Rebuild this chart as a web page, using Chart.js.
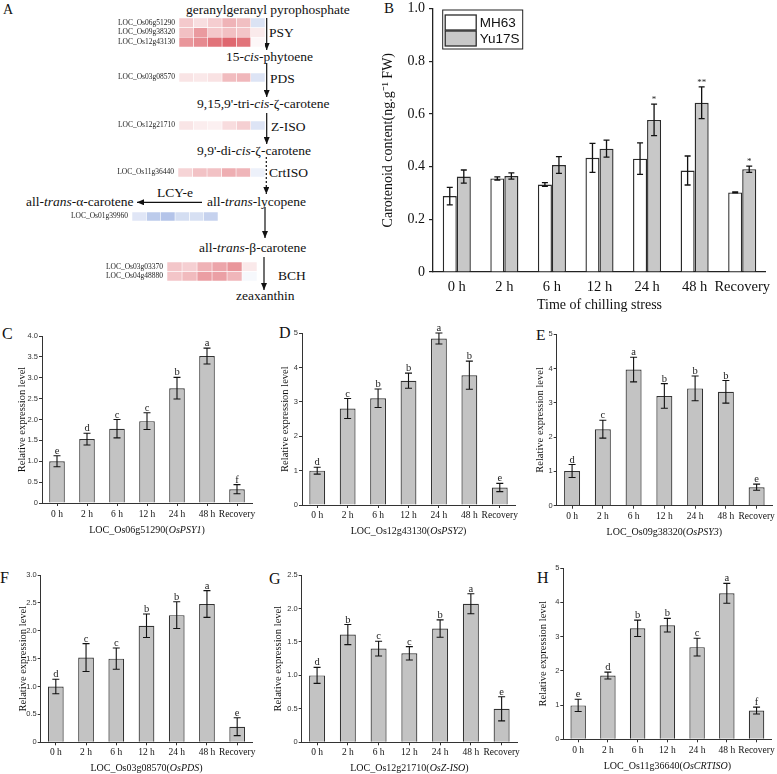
<!DOCTYPE html>
<html>
<head>
<meta charset="utf-8">
<script src="https://cdn.jsdelivr.net/npm/chart.js@4.4.0/dist/chart.umd.min.js"></script>
<style>
body { margin: 0; background: #fff; }
#page { position: relative; width: 777px; height: 774px; overflow: hidden; font-family: "Liberation Serif", "Times New Roman", serif; color: #111; }
#page canvas { position: absolute; }
.t { position: absolute; white-space: nowrap; font-size: 13.5px; line-height: 1; transform: translateY(-50%); }
.pl { position: absolute; font-size: 15.5px; line-height: 1; }
</style>
</head>
<body>
<div id="page">
<svg width="380" height="320" style="position:absolute;left:0;top:0">
  <defs>
    <marker id="ah" viewBox="0 0 10 10" refX="10" refY="5" markerWidth="7" markerHeight="6" markerUnits="userSpaceOnUse" orient="auto" preserveAspectRatio="none">
      <path d="M0,0 L10,5 L0,10 z" fill="#111"/>
    </marker>
  </defs>
  <g stroke="#111" stroke-width="1.2" fill="none">
    <line x1="266.7" y1="18" x2="266.7" y2="50" marker-end="url(#ah)"/>
    <line x1="266.7" y1="63" x2="266.7" y2="97" marker-end="url(#ah)"/>
    <line x1="266.7" y1="113" x2="266.7" y2="144" marker-end="url(#ah)"/>
    <line x1="266.3" y1="157" x2="266.3" y2="194" stroke-dasharray="2,2" marker-end="url(#ah)"/>
    <line x1="202" y1="202.3" x2="137" y2="202.3" marker-end="url(#ah)"/>
    <line x1="265" y1="207" x2="265" y2="238" marker-end="url(#ah)"/>
    <line x1="264" y1="257" x2="264" y2="290" marker-end="url(#ah)"/>
  </g>
</svg>
</div>

<script>
// ---- data ----
const times = ["0 h", "2 h", "6 h", "12 h", "24 h", "48 h", "Recovery"];

// panel B
const mh63 = [0.288, 0.355, 0.332, 0.433, 0.43, 0.385, 0.302];
const mh63Err = [0.033, 0.006, 0.007, 0.055, 0.06, 0.055, 0.002];
const yu17s = [0.362, 0.364, 0.406, 0.468, 0.577, 0.642, 0.39];
const yu17sErr = [0.025, 0.012, 0.032, 0.032, 0.06, 0.06, 0.012];
const yu17sSig = ["", "", "", "", "*", "**", "*"];
const ticksB = [0, 0.2, 0.4, 0.6, 0.8, 1.0];

// panels C-H
const psy1 = [1.0, 1.53, 1.78, 1.96, 2.75, 3.52, 0.33];
const psy1Err = [0.13, 0.14, 0.22, 0.2, 0.26, 0.19, 0.11];
const psy1Sig = ["e", "d", "c", "c", "b", "a", "f"];

const psy2 = [1.0, 2.81, 3.11, 3.62, 4.85, 3.78, 0.51];
const psy2Err = [0.1, 0.29, 0.27, 0.22, 0.16, 0.41, 0.12];
const psy2Sig = ["d", "c", "b", "b", "a", "b", "e"];

const psy3 = [1.01, 2.23, 3.97, 3.2, 3.42, 3.32, 0.54];
const psy3Err = [0.19, 0.26, 0.36, 0.36, 0.36, 0.33, 0.09];
const psy3Sig = ["d", "c", "a", "b", "b", "b", "e"];

const pds = [1.0, 1.52, 1.5, 2.09, 2.28, 2.48, 0.28];
const pdsErr = [0.13, 0.25, 0.19, 0.21, 0.24, 0.24, 0.16];
const pdsSig = ["d", "c", "c", "b", "b", "a", "e"];

const ziso = [1.0, 1.61, 1.4, 1.33, 1.7, 2.07, 0.5];
const zisoErr = [0.12, 0.15, 0.11, 0.1, 0.13, 0.15, 0.18];
const zisoSig = ["d", "b", "c", "c", "b", "a", "e"];

const crtiso = [0.99, 1.86, 3.24, 3.33, 2.69, 4.26, 0.84];
const crtisoErr = [0.18, 0.1, 0.24, 0.2, 0.26, 0.29, 0.1];
const crtisoSig = ["e", "d", "b", "b", "c", "a", "f"];

// panel A heatmaps (log2 change vs 0 h, columns 2 h .. Recovery)
const psyGenes = ["LOC_Os06g51290", "LOC_Os09g38320", "LOC_Os12g43130"];
const psyHeat = [[0.55, 0.34, 0.51, 0.78, 0.66, -0.39], [0.65, 1.04, 0.56, 0.65, 0.6, 0.22], [1.08, 1.2, 1.44, 1.56, 1.44, 0.08]];
const pdsGenes = ["LOC_Os03g08570"];
const pdsHeat = [[0.28, 0.24, 0.3, 0.69, 0.74, -0.37]];
const zisoGenes = ["LOC_Os12g21710"];
const zisoHeat = [[0.27, 0.18, 0.15, 0.36, 0.49, -0.37]];
const crtGenes = ["LOC_Os11g36440"];
const crtHeat = [[0.44, 0.63, 0.63, 0.83, 0.76, -0.2]];
const lcyGenes = ["LOC_Os01g39960"];
const lcyHeat = [[-0.34, -0.72, -0.81, -0.46, -0.43, -0.62]];
const bchGenes = ["LOC_Os03g03370", "LOC_Os04g48880"];
const bchHeat = [[0.58, 0.49, 0.79, 0.92, 1.08, 0.23], [0.59, 0.7, 1.0, 0.97, 0.75, -0.1]];

// ---- page text ----
const page = document.getElementById("page");
Chart.defaults.font.family = "'Liberation Serif', 'Times New Roman', serif";
Chart.defaults.color = "#111";

const pathLabels = [
    ["geranylgeranyl pyrophosphate", 186, 10],
    ["PSY", 269, 33],
    ["15-<i>cis</i>-phytoene", 226, 57],
    ["PDS", 270, 79],
    ["9,15,9'-tri-<i>cis</i>-ζ-carotene", 197, 104],
    ["Z-ISO", 271, 127],
    ["9,9'-di-<i>cis</i>-ζ-carotene", 197, 151],
    ["CrtISO", 269, 173],
    ["LCY-e", 157, 193],
    ["all-<i>trans</i>-α-carotene", 26, 202],
    ["all-<i>trans</i>-lycopene", 207, 202],
    ["all-<i>trans</i>-β-carotene", 199, 248],
    ["BCH", 278, 276],
    ["zeaxanthin", 236, 296]
];
pathLabels.forEach(function (p) {
    let s = document.createElement("span");
    s.className = "t";
    s.innerHTML = p[0];
    s.style.left = p[1] + "px";
    s.style.top = p[2] + "px";
    page.appendChild(s);
});

const panelLetters = [["A", 3, 3, 14], ["B", 384, 1, 15], ["C", 2, 326, 16], ["D", 279, 325, 16], ["E", 536, 327, 15.5],
    ["F", 0, 570, 16], ["G", 269, 571, 16], ["H", 537, 570, 16]];
panelLetters.forEach(function (p) {
    let s = document.createElement("span");
    s.className = "pl";
    s.textContent = p[0];
    s.style.left = p[1] + "px";
    s.style.top = p[2] + "px";
    s.style.fontSize = p[3] + "px";
    page.appendChild(s);
});

function addCanvas(left, top, w, h) {
    let cv = document.createElement("canvas");
    cv.width = w;
    cv.height = h;
    cv.style.left = left + "px";
    cv.style.top = top + "px";
    cv.style.width = w + "px";
    cv.style.height = h + "px";
    page.appendChild(cv);
    return cv;
}

// ---- heatmaps ----
function heatColor(v) {
    let t = Math.min(Math.abs(v) / 2, 1);
    let end = v >= 0 ? [214, 60, 70] : [70, 110, 200];
    let c = end.map(e => Math.round(255 - (255 - e) * t));
    return "rgb(" + c.join(",") + ")";
}

function heatmap(genes, values, x0, x1, y0, y1) {
    const labelW = 70, pad = 10;
    let top = Math.round(y0) - pad;
    let h = Math.round(y1 - y0) + 2 * pad;
    let cv = addCanvas(Math.round(x0) - labelW, top, Math.round(x1 - x0) + labelW + 2, h);
    let datasets = [];
    for (let c = 0; c < values[0].length; c++) {
        datasets.push({
            data: genes.map(() => 1),
            backgroundColor: values.map(r => heatColor(r[c])),
            borderColor: "rgba(255,255,255,0.85)",
            borderWidth: 0.6,
            borderSkipped: false,
            barPercentage: 1,
            categoryPercentage: 1
        });
    }
    new Chart(cv, {
        type: "bar",
        data: { labels: genes, datasets: datasets },
        options: {
            indexAxis: "y", responsive: false, maintainAspectRatio: false, animation: false, events: [],
            layout: { padding: { top: pad, bottom: pad, left: 0, right: 2 } },
            plugins: { legend: { display: false }, tooltip: { enabled: false } },
            scales: {
                x: { stacked: true, display: false, min: 0, max: values[0].length },
                y: {
                    stacked: true,
                    grid: { display: false, drawTicks: false },
                    border: { display: false },
                    ticks: { autoSkip: false, padding: 4, color: "#222", font: { size: 7.5 } },
                    afterFit: s => { s.width = labelW; }
                }
            }
        }
    });
}

heatmap(psyGenes, psyHeat, 179, 265, 18, 47);
heatmap(pdsGenes, pdsHeat, 179, 265, 73, 82);
heatmap(zisoGenes, zisoHeat, 179, 265, 121, 130);
heatmap(crtGenes, crtHeat, 178, 265, 168, 177);
heatmap(lcyGenes, lcyHeat, 132, 218, 212, 221);
heatmap(bchGenes, bchHeat, 167, 257, 262, 281);

// ---- plugins ----
function errorBars(cap, width, font) {
    return {
        id: "errorBars",
        afterDatasetsDraw(chart) {
            const ctx = chart.ctx, y = chart.scales.y;
            chart.data.datasets.forEach(function (ds, i) {
                if (!ds.errors) return;
                chart.getDatasetMeta(i).data.forEach(function (bar, j) {
                    let top = y.getPixelForValue(ds.data[j] + ds.errors[j]);
                    let bot = y.getPixelForValue(ds.data[j] - ds.errors[j]);
                    ctx.save();
                    ctx.strokeStyle = "#111";
                    ctx.lineWidth = width;
                    ctx.beginPath();
                    ctx.moveTo(bar.x, top); ctx.lineTo(bar.x, bot);
                    ctx.moveTo(bar.x - cap, top); ctx.lineTo(bar.x + cap, top);
                    ctx.moveTo(bar.x - cap, bot); ctx.lineTo(bar.x + cap, bot);
                    ctx.stroke();
                    if (ds.marks && ds.marks[j]) {
                        ctx.fillStyle = "#222";
                        ctx.font = font;
                        ctx.textAlign = "center";
                        ctx.textBaseline = "alphabetic";
                        ctx.fillText(ds.marks[j], bar.x, top - 2);
                    }
                    ctx.restore();
                });
            });
        }
    };
}

function geneTitle(parts, ty, size) {
    return {
        id: "geneTitle",
        afterDraw(chart) {
            const ctx = chart.ctx, a = chart.chartArea;
            ctx.save();
            let fonts = parts.map(p => (p[1] ? "italic " : "") + size + "px 'Liberation Serif'");
            let widths = parts.map((p, i) => { ctx.font = fonts[i]; return ctx.measureText(p[0]).width; });
            let total = widths.reduce((s, w) => s + w, 0);
            let x = (a.left + a.right) / 2 - total / 2;
            ctx.fillStyle = "#111";
            ctx.textBaseline = "middle";
            parts.forEach(function (p, i) {
                ctx.font = fonts[i];
                ctx.fillText(p[0], x, ty);
                x += widths[i];
            });
            ctx.restore();
        }
    };
}

const boxLegend = {
    id: "boxLegend",
    afterDraw(chart) {
        const ctx = chart.ctx, a = chart.chartArea;
        let x = a.left + 9.7, y = a.top + 1.6;
        ctx.save();
        ctx.strokeStyle = "#222";
        ctx.lineWidth = 1;
        ctx.strokeRect(x, y, 80, 39);
        chart.data.datasets.forEach(function (ds, i) {
            let ry = y + 5 + i * 16;
            ctx.fillStyle = ds.backgroundColor;
            ctx.fillRect(x + 2.5, ry, 31, 15);
            ctx.strokeStyle = ds.borderColor;
            ctx.lineWidth = 1.3;
            ctx.strokeRect(x + 2.5, ry, 31, 15);
            ctx.fillStyle = "#111";
            ctx.font = "13.5px 'Liberation Sans'";
            ctx.textBaseline = "middle";
            ctx.fillText(ds.label, x + 37, ry + 8);
        });
        ctx.restore();
    }
};

// ---- panel B ----
(function () {
    const g = { cx: 370, axisL: 433, axisR: 767, topY: 6.7, zeroY: 272, yTitleX: 388, xLabelY: 287, xTitleY: 305 };
    const cy = Math.floor(g.topY - 10);
    const cw = 777 - g.cx;
    const ch = Math.ceil(g.xTitleY + 8.4) - cy;
    const padL = g.yTitleX - g.cx - 8.4;
    let cv = addCanvas(g.cx, cy, cw, ch);
    new Chart(cv, {
        type: "bar",
        data: {
            labels: times,
            datasets: [
                { label: "MH63", data: mh63, errors: mh63Err, backgroundColor: "#ffffff", borderColor: "#2a2a2a", borderWidth: 1.4, barPercentage: 1, categoryPercentage: 0.59 },
                { label: "Yu17S", data: yu17s, errors: yu17sErr, marks: yu17sSig, backgroundColor: "#c8c8c8", borderColor: "#2a2a2a", borderWidth: 1.4, barPercentage: 1, categoryPercentage: 0.59 }
            ]
        },
        options: {
            responsive: false, animation: false, events: [],
            layout: { padding: { left: padL, top: g.topY - cy, right: cw - (g.axisR - g.cx), bottom: 0 } },
            plugins: { legend: { display: false }, tooltip: { enabled: false } },
            scales: {
                x: {
                    grid: { drawOnChartArea: false, drawTicks: false },
                    border: { color: "#222", width: 1.3 },
                    ticks: { font: { size: 14.5 }, padding: g.xLabelY - g.zeroY - 8.7, maxRotation: 0, autoSkip: false },
                    title: { display: true, text: "Time of chilling stress", font: { size: 14 }, padding: 0 },
                    afterFit: s => { s.height = ch - (g.zeroY - cy); }
                },
                y: {
                    min: 0, max: 1,
                    afterBuildTicks: s => { s.ticks = ticksB.map(v => ({ value: v })); },
                    ticks: { font: { size: 14 }, padding: 4, callback: v => v === 0 ? "0" : v.toFixed(1) },
                    grid: { drawOnChartArea: false, tickLength: 4, color: "#222", lineWidth: 1.2 },
                    border: { color: "#222", width: 1.3 },
                    title: { display: true, text: "Carotenoid content(ng.g⁻¹ FW)", font: { size: 14 }, padding: 0 },
                    afterFit: s => { s.width = g.axisL - g.cx - padL; }
                }
            }
        },
        plugins: [errorBars(3, 1.3, "9px 'Liberation Serif'"), boxLegend]
    });
})();

// ---- panels C-H ----
function exprChart(g, values, errs, letters, geneId, geneSym, maxY, stepY) {
    const cy = Math.floor(g.topY - 10);
    const right = Math.min(777, Math.ceil(g.axisR + 9));
    const cw = right - g.cx;
    const ch = Math.ceil(g.xTitleY + 8) - cy;
    const padL = g.yTitleX - g.cx - 6.3;
    let cv = addCanvas(g.cx, cy, cw, ch);
    new Chart(cv, {
        type: "bar",
        data: {
            labels: times,
            datasets: [{ data: values, errors: errs, marks: letters, backgroundColor: "#c3c3c3", borderColor: "#333", borderWidth: 1.2, barPercentage: 0.52, categoryPercentage: 1 }]
        },
        options: {
            responsive: false, animation: false, events: [],
            layout: { padding: { left: padL, top: g.topY - cy, right: cw - (g.axisR - g.cx), bottom: 0 } },
            plugins: { legend: { display: false }, tooltip: { enabled: false } },
            scales: {
                x: {
                    grid: { drawOnChartArea: false, offset: false, tickLength: 3, color: "#333" },
                    border: { color: "#333", width: 1 },
                    ticks: { font: { size: 9.5 }, padding: g.xLabelY - g.zeroY - 3 - 5.7, maxRotation: 0, autoSkip: false },
                    afterFit: s => { s.height = ch - (g.zeroY - cy); }
                },
                y: {
                    min: 0, max: maxY,
                    ticks: { stepSize: stepY, color: "#333", font: { family: "'Liberation Sans', Arial, sans-serif", size: 7.5 }, padding: 1,
                        callback: v => v === 0 ? "0" : (stepY < 1 ? v.toFixed(1) : String(v)) },
                    grid: { drawOnChartArea: false, tickLength: 3, color: "#333" },
                    border: { color: "#333", width: 1 },
                    title: { display: true, text: "Relative expression level", font: { size: 10.5 }, padding: 0 },
                    afterFit: s => { s.width = g.axisL - g.cx - padL; }
                }
            }
        },
        plugins: [errorBars(3.5, 1.1, "10.5px 'Liberation Serif'"), geneTitle([[geneId + "(", false], [geneSym, true], [")", false]], g.xTitleY - cy, 10)]
    });
}

exprChart({ cx: 0, axisL: 42, axisR: 252, topY: 336, zeroY: 503, yTitleX: 22, xLabelY: 514, xTitleY: 530 },
    psy1, psy1Err, psy1Sig, "LOC_Os06g51290", "OsPSY1", 4, 0.5);
exprChart({ cx: 262, axisL: 302, axisR: 515, topY: 333.3, zeroY: 505, yTitleX: 285, xLabelY: 515.7, xTitleY: 531.7 },
    psy2, psy2Err, psy2Sig, "LOC_Os12g43130", "OsPSY2", 5, 1);
exprChart({ cx: 520, axisL: 556.7, axisR: 772, topY: 334.2, zeroY: 505.7, yTitleX: 540, xLabelY: 516, xTitleY: 532 },
    psy3, psy3Err, psy3Sig, "LOC_Os09g38320", "OsPSY3", 5, 1);
exprChart({ cx: 0, axisL: 40.7, axisR: 252.3, topY: 575, zeroY: 742.3, yTitleX: 23.5, xLabelY: 752.7, xTitleY: 768.3 },
    pds, pdsErr, pdsSig, "LOC_Os03g08570", "OsPDS", 3, 0.5);
exprChart({ cx: 262, axisL: 301.7, axisR: 517, topY: 575, zeroY: 742.3, yTitleX: 278.3, xLabelY: 752.7, xTitleY: 768.3 },
    ziso, zisoErr, zisoSig, "LOC_Os12g21710", "OsZ-ISO", 2.5, 0.5);
exprChart({ cx: 522, axisL: 563.3, axisR: 773.5, topY: 568, zeroY: 739.3, yTitleX: 543.5, xLabelY: 750, xTitleY: 766.7 },
    crtiso, crtisoErr, crtisoSig, "LOC_Os11g36640", "OsCRTISO", 5, 1);
</script>
</body>
</html>
